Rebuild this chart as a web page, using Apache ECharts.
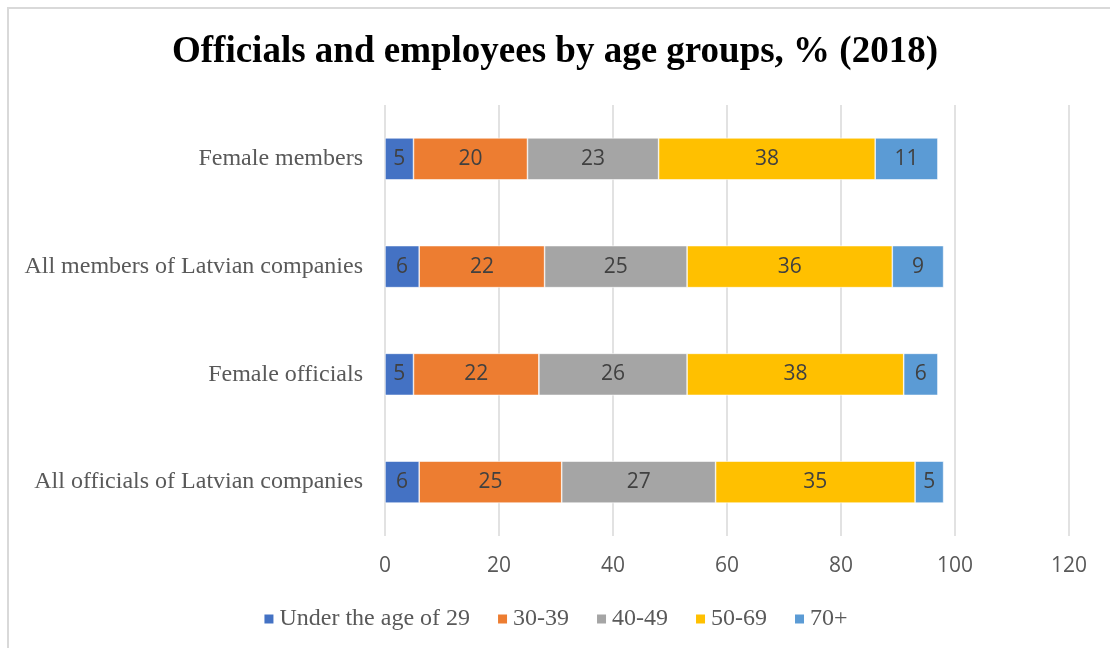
<!DOCTYPE html>
<html>
<head>
<meta charset="utf-8">
<script src="https://cdn.jsdelivr.net/npm/echarts@6/dist/echarts.min.js"></script>
<style>
  html, body { margin: 0; padding: 0; background: #fff; }
  #chart { width: 1110px; height: 648px; }
</style>
</head>
<body>
<div id="chart"></div>
<script>
// Categories listed bottom-to-top (category axis starts at the bottom)
const categories = [
  'All officials of Latvian companies',
  'Female officials',
  'All members of Latvian companies',
  'Female members'
];
const seriesNames = ['Under the age of 29', '30-39', '40-49', '50-69', '70+'];
const under29 = [6, 5, 6, 5];
const age30_39 = [25, 22, 22, 20];
const age40_49 = [27, 26, 25, 23];
const age50_69 = [35, 38, 36, 38];
const age70plus = [5, 6, 9, 11];
const xTicks = [0, 20, 40, 60, 80, 100, 120];

const values = [under29, age30_39, age40_49, age50_69, age70plus];
const colors = ['#4472C4', '#ED7D31', '#A5A5A5', '#FFC000', '#5B9BD5'];

const chart = echarts.init(document.getElementById('chart'));
chart.setOption({
  animation: false,
  graphic: [{
    type: 'rect',
    shape: { x: 8, y: 8, width: 1200, height: 1000 },
    style: { fill: 'none', stroke: '#D9D9D9', lineWidth: 2 },
    silent: true
  }],
  title: {
    text: 'Officials and employees by age groups, % (2018)',
    left: 'center',
    top: 29,
    textStyle: {
      fontFamily: 'Liberation Serif',
      fontWeight: 'bold',
      fontSize: 37,
      color: '#000'
    }
  },
  legend: {
    top: 602,
    left: 'center',
    itemWidth: 11,
    itemHeight: 11,
    itemGap: 26,
    icon: 'rect',
    textStyle: {
      fontFamily: 'Liberation Serif',
      fontSize: 24,
      color: '#595959',
      padding: [0, 0, 3, 0]
    },
    data: seriesNames
  },
  grid: { left: 385, right: 41, top: 105, bottom: 112 },
  xAxis: {
    type: 'value',
    min: xTicks[0],
    max: xTicks[xTicks.length - 1],
    interval: 20,
    axisLine: { show: false },
    axisTick: { show: false },
    splitLine: { lineStyle: { color: '#D9D9D9', width: 1.5 } },
    axisLabel: {
      margin: 20,
      fontFamily: 'Open Sans',
      fontSize: 21,
      color: '#595959'
    }
  },
  yAxis: {
    type: 'category',
    data: categories,
    axisLine: { show: false },
    axisTick: { show: false },
    axisLabel: {
      margin: 22,
      fontFamily: 'Liberation Serif',
      fontSize: 24,
      color: '#595959'
    }
  },
  series: seriesNames.map((name, i) => ({
    name: name,
    type: 'bar',
    stack: 'total',
    barWidth: '39%',
    data: values[i],
    itemStyle: { color: colors[i], borderColor: '#fff', borderWidth: 0.6 },
    label: {
      show: true,
      position: 'inside',
      fontFamily: 'Open Sans',
      fontSize: 21,
      color: '#404040'
    }
  }))
});
</script>
</body>
</html>
